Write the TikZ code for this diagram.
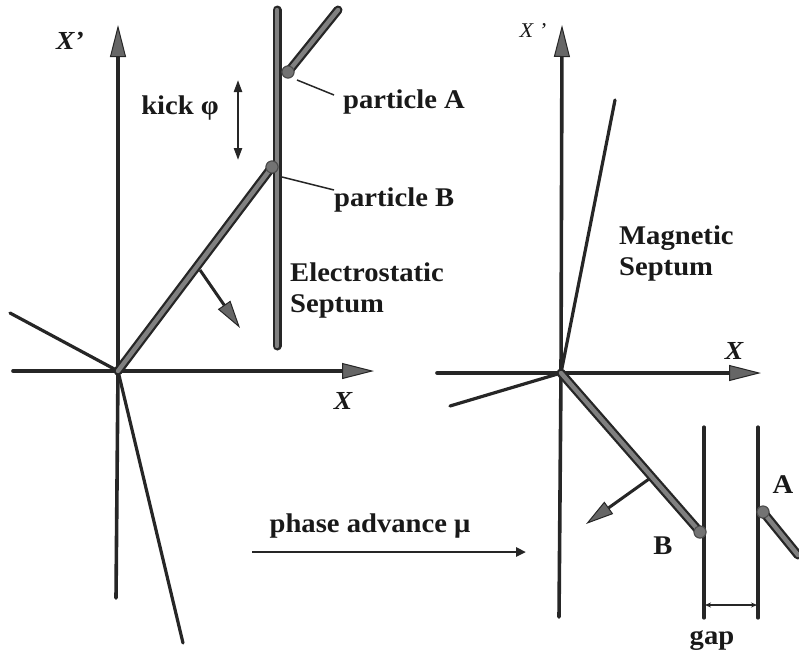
\documentclass[tikz,border=0pt]{standalone}
\usepackage{fontspec}
\setmainfont[FakeStretch=1.06]{Liberation Serif}
\usetikzlibrary{arrows.meta}
\begin{document}
\begin{tikzpicture}[x=1pt,y=-1pt,
  axisline/.style={line width=3.6pt, draw=black!85, line cap=round},
  axisarrow/.style={axisline, -{Triangle[length=32pt,width=16pt,fill=black!60,line width=1pt]}},
  thinline/.style={line width=3.2pt, draw=black!85, line cap=round},
  thickline/.style={line width=2.3pt, draw=black!85, double=black!50, double distance=4.4pt, line cap=round},
  leader/.style={line width=1.5pt, draw=black!85},
  smallarrow/.style={line width=2.6pt, draw=black!85, -{Triangle[length=10pt,width=9pt]}},
  kickarrow/.style={line width=2.2pt, draw=black!85, {Triangle[length=12pt,width=8pt]}-{Triangle[length=12pt,width=8pt]}},
  gaparrow/.style={line width=1.5pt, draw=black!85, {Stealth[length=6pt,width=5pt]}-{Stealth[length=6pt,width=5pt]}},
  bigarrow/.style={line width=3pt, draw=black!85, -{Triangle[length=28pt,width=15pt,fill=black!60,line width=1pt]}},
  dot/.style={circle, minimum size=12pt, inner sep=0pt, fill=black!55, draw=black!70, line width=1pt},
  lbl/.style={font=\fontsize{27}{31}\selectfont\bfseries, inner sep=0pt, text=black!90},
  axlbl/.style={font=\fontsize{26}{30}\selectfont\bfseries\itshape, inner sep=0pt, text=black!90},
]
\useasboundingbox (0,0) rectangle (799,659);

% ---------------- left diagram ----------------
\coordinate (O1) at (118,371);
\coordinate (Y1t) at (118,25);
\coordinate (Y1b) at (116,598);
\coordinate (X1l) at (13,371);
\coordinate (X1r) at (374,371);
\coordinate (L1a) at (10,313);
\coordinate (L1b) at (183,643);
\coordinate (S1t) at (277,10);
\coordinate (S1b) at (277,346);
\coordinate (PAe) at (338,10);
\coordinate (K1) at (200,270);
\coordinate (K2) at (240,328);
\coordinate (KA) at (238,80);
\coordinate (KB) at (238,160);
\coordinate (LA1) at (297,80);
\coordinate (LA2) at (334,95);
\coordinate (LB1) at (282,177);
\coordinate (LB2) at (334,190);

\draw[axisline] (Y1b) -- (O1);
\draw[axisarrow] (O1) -- (Y1t);
\draw[axisarrow] (X1l) -- (X1r);
\draw[thinline] (L1a) -- (O1) -- (L1b);

\draw[thickline] (S1b) -- (S1t);
\node[dot] (PB) at (272,167) {};
\node[dot] (PA) at (288,72) {};
\draw[thickline] (O1) -- (PB.center);
\draw[thickline] (PA.center) -- (PAe);
\node[dot] at (PB) {};
\node[dot] at (PA) {};

\draw[bigarrow] (K1) -- (K2);
\draw[kickarrow] (KA) -- (KB);
\draw[leader] (LA1) -- (LA2);
\draw[leader] (LB1) -- (LB2);

\node[axlbl] (Xp1) at (70,41) {X’};
\node[axlbl] (X1) at (343,401) {X};
\node[lbl] (kick) at (180,108) {kick φ};
\node[lbl, anchor=west] (pa) at (343,102) {particle A};
\node[lbl, anchor=west] (pb) at (334,200) {particle B};
\node[lbl, anchor=west, align=left] (es) at (290,290) {Electrostatic\\Septum};

% ---------------- phase advance ----------------
\coordinate (PH1) at (252,552);
\coordinate (PH2) at (526,552);
\draw[smallarrow] (PH1) -- (PH2);
\node[lbl] (ph) at (370,526) {phase advance μ};

% ---------------- right diagram ----------------
\coordinate (O2) at (561,373);
\coordinate (Y2t) at (562,25);
\coordinate (Y2b) at (559,617);
\coordinate (X2l) at (437,373);
\coordinate (X2r) at (761,373);
\coordinate (R1) at (615,100);
\coordinate (R2) at (450,406);
\coordinate (M1) at (649,479);
\coordinate (M2) at (586,524);
\coordinate (W1t) at (704,427);
\coordinate (W1b) at (704,618);
\coordinate (W2t) at (758,427);
\coordinate (W2b) at (758,618);
\coordinate (PAe2) at (798,555);
\coordinate (G1) at (705,605);
\coordinate (G2) at (757,605);

\draw[axisline] (Y2b) -- (O2);
\draw[axisarrow] (O2) -- (Y2t);
\draw[axisarrow] (X2l) -- (X2r);
\draw[thinline] (R1) -- (O2) -- (R2);
\draw[thinline] (W1t) -- (W1b);
\draw[thinline] (W2t) -- (W2b);
\node[dot] (PB2) at (700,532) {};
\node[dot] (PA2) at (763,512) {};
\draw[thickline] (O2) -- (PB2.center);
\draw[thickline] (PA2.center) -- (PAe2);
\node[dot] at (PB2) {};
\node[dot] at (PA2) {};
\draw[bigarrow] (M1) -- (M2);
\draw[gaparrow] (G1) -- (G2);

\node[font=\fontsize{21}{25}\selectfont\itshape, inner sep=0pt, text=black!90] (Xp2) at (533,31) {X ’};
\node[axlbl] (X2) at (734,351) {X};
\node[lbl, anchor=west, align=left] (ms) at (619,253) {Magnetic\\Septum};
\node[lbl] (B) at (663,546) {B};
\node[lbl] (A) at (783,485) {A};
\node[lbl] (gap) at (712,641) {gap};
\end{tikzpicture}
\end{document}
